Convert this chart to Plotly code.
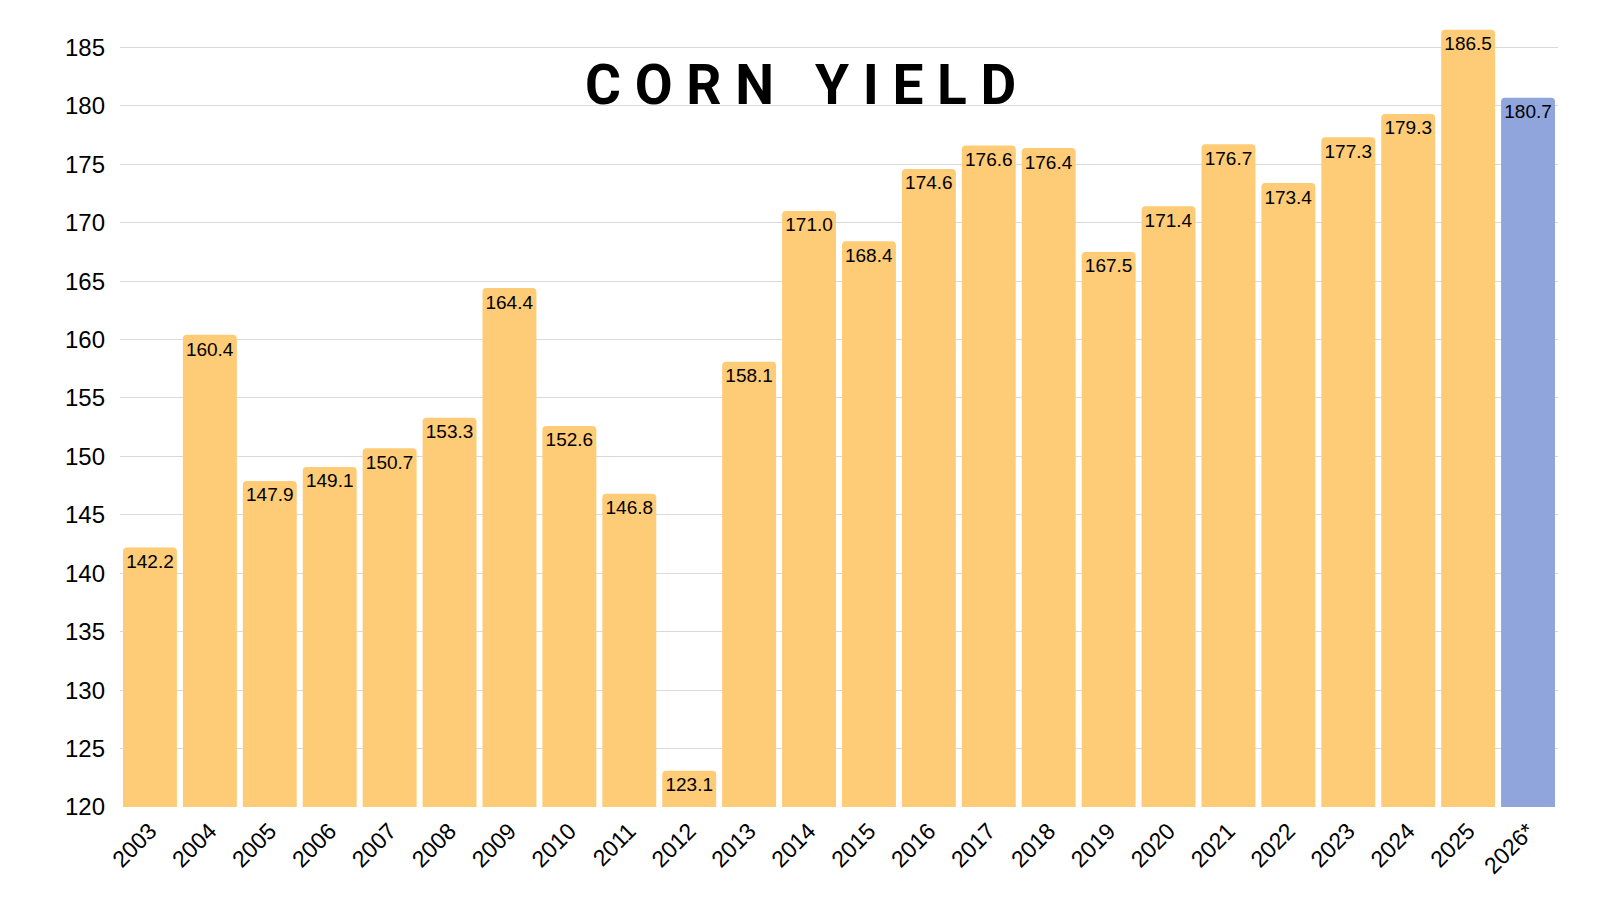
import plotly.graph_objects as go

years = ['2003', '2004', '2005', '2006', '2007', '2008', '2009', '2010',
         '2011', '2012', '2013', '2014', '2015', '2016', '2017', '2018',
         '2019', '2020', '2021', '2022', '2023', '2024', '2025', '2026*']
yields = [142.2, 160.4, 147.9, 149.1, 150.7, 153.3, 164.4, 152.6,
          146.8, 123.1, 158.1, 171.0, 168.4, 174.6, 176.6, 176.4,
          167.5, 171.4, 176.7, 173.4, 177.3, 179.3, 186.5, 180.7]
y_ticks = [120, 125, 130, 135, 140, 145, 150, 155, 160, 165, 170, 175, 180, 185]

# last bar is the projection, in blue
colors = ['#FECB76'] * (len(years) - 1) + ['#8FA5DC']
labels = ['%.1f' % v for v in yields]

fig = go.Figure()

fig.add_trace(go.Bar(
    x=years,
    y=yields,
    marker=dict(color=colors, cornerradius=4, line=dict(width=0)),
    text=labels,
    textposition='inside',
    insidetextanchor='end',
    textangle=0,
    textfont=dict(family='Liberation Sans, Arial, sans-serif', size=19, color='black'),
))

# title sits inside the plot area, between the top gridlines
fig.add_annotation(
    text='C O R N   Y I E L D',
    xref='paper', yref='paper',
    x=0.473, y=0.922,
    xanchor='center', yanchor='middle',
    showarrow=False,
    font=dict(family='Roboto, DejaVu Sans Condensed, sans-serif',
              size=55, color='black', weight='bold'),
)

fig.update_layout(
    width=1600, height=900,
    margin=dict(l=112, r=50, t=16, b=101, autoexpand=False),
    paper_bgcolor='white',
    plot_bgcolor='white',
    bargap=0.1,
    showlegend=False,
    uniformtext=dict(minsize=19, mode='show'),
    font=dict(family='Liberation Sans, Arial, sans-serif', color='black'),
    xaxis=dict(
        tickangle=-45,
        tickfont=dict(size=23),
        showgrid=False,
        showline=False,
        ticks='',
        ticklabelstandoff=5,
    ),
    yaxis=dict(
        range=[120, 187],
        tickvals=y_ticks,
        tickfont=dict(size=24),
        gridcolor='#D9D9D9',
        gridwidth=1,
        zeroline=False,
        showline=False,
        ticks='',
        ticklabelstandoff=14,
    ),
)

fig.write_html("out.html")
